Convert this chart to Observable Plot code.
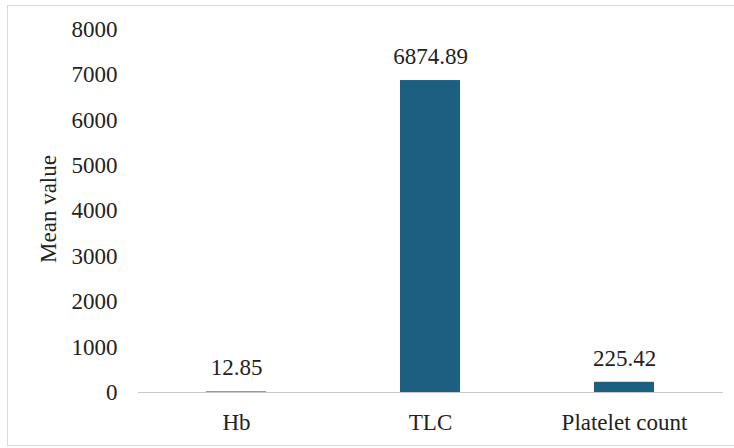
<!DOCTYPE html>
<html>
<head>
<meta charset="utf-8">
<script src="https://cdn.jsdelivr.net/npm/d3@7"></script>
<script src="https://cdn.jsdelivr.net/npm/@observablehq/plot@0.6"></script>
<style>
  html, body { margin: 0; padding: 0; background: #fff; }
  #wrap { position: relative; width: 734px; height: 448px; }
  #border { position: absolute; left: 7px; top: 5px; width: 727px; height: 441px; border: 1px solid #d9d9d9; border-right: none; box-sizing: border-box; pointer-events: none; }
</style>
</head>
<body>
<div id="wrap"><div id="border"></div></div>
<script>
const categories = ["Hb", "TLC", "Platelet count"];
const values = [12.85, 6874.89, 225.42];
const labels = ["12.85", "6874.89", "225.42"];
const yTicks = [0, 1000, 2000, 3000, 4000, 5000, 6000, 7000, 8000];

const data = categories.map((c, i) => ({cat: c, val: values[i], label: labels[i]}));
const FONT = "'Liberation Serif', 'Times New Roman', serif";

const chart = Plot.plot({
  width: 734,
  height: 448,
  marginLeft: 138,
  marginRight: 11,
  marginTop: 29,
  marginBottom: 56,
  style: {fontSize: "23px", color: "#222", background: "transparent"},
  x: {domain: categories, paddingInner: 0.69, paddingOuter: 0.346, label: null, tickSize: 0, tickPadding: 21},
  y: {domain: [0, 8000], ticks: yTicks, tickFormat: d => String(d), label: null, tickSize: 0, tickPadding: 21},
  marks: [
    Plot.barY(data, {x: "cat", y: "val", fill: "#1d5f80"}),
    Plot.ruleY([0], {stroke: "#c8c8c8", strokeWidth: 1}),
    Plot.text(data, {x: "cat", y: "val", text: "label", dy: -24, fontSize: 23, fill: "#222"}),
    Plot.text(["Mean value"], {frameAnchor: "left", textAnchor: "middle", dx: -90, dy: -2, rotate: -90, fontSize: 23, fill: "#222"})
  ]
});
chart.style.fontFamily = FONT;
d3.select(chart).selectAll("text, g").each(function() {
  this.style.fontFamily = FONT;
});
document.getElementById("wrap").appendChild(chart);
chart.style.position = "absolute";
chart.style.left = "0";
chart.style.top = "0";
</script>
</body>
</html>
